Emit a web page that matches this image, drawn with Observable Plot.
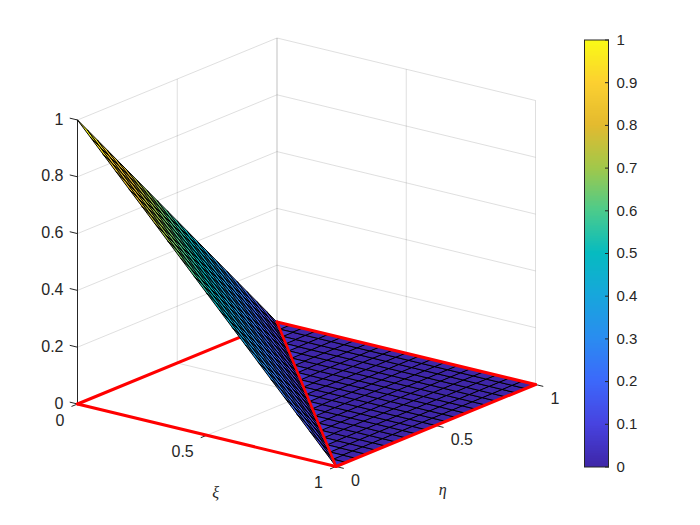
<!DOCTYPE html>
<html>
<head>
<meta charset="utf-8">
<script src="https://cdn.jsdelivr.net/npm/d3@7"></script>
<script src="https://cdn.jsdelivr.net/npm/@observablehq/plot@0.6"></script>
<style>
html,body{margin:0;padding:0;background:#fff}
#chart{position:relative;width:700px;height:525px;overflow:hidden}
#chart svg{position:absolute;top:0;background:transparent}
</style>
</head>
<body>
<div id="chart"></div>
<script>
// Mesh coordinates and heights
const meshSteps = [0,1,2,3,4,5,6,7,8,9,10,11,12,13,14,15,16,17,18,19,20];
const meshCoords = [0,.05,.1,.15,.2,.25,.3,.35,.4,.45,.5,.55,.6,.65,.7,.75,.8,.85,.9,.95,1];
// Height of the surface on each mesh diagonal (xi index + eta index), 0 beyond the last
const diagonalHeights = [1,.95,.9,.85,.8,.75,.7,.65,.6,.55,.5,.45,.4,.35,.3,.25,.2,.15,.1,.05,0];
const xiTicks = [0,0.5,1];
const etaTicks = [0,0.5,1];
const zTicks = [0,0.2,0.4,0.6,0.8,1];
const colorbarTicks = [0,0.1,0.2,0.3,0.4,0.5,0.6,0.7,0.8,0.9,1];
// Parula colormap stops
const parulaStops = ["#3e26a8","#4743e0","#3c68fb","#2a8cf0","#17a6dc","#06bbc0","#4ccb8b","#a1c84a","#e3ba2f","#fcd030","#f9fb15"];

// Oblique view of the unit cube
const view = {xi:[258.5,-62.5], eta:[199.5,82], z:[0,284]};
const px = ([a,b,c]) => a*view.xi[0] + b*view.eta[0] + c*view.z[0];
const py = ([a,b,c]) => a*view.xi[1] + b*view.eta[1] + c*view.z[1];
const last = meshSteps.length - 1;
const height = (i,j) => diagonalHeights[Math.min(i+j,last)];

const color = {type:"linear", domain:d3.range(11).map(d=>d/10), range:parulaStops};

const cells = [];
for (const i of meshSteps.slice(0,-1)) for (const j of meshSteps.slice(0,-1)) {
  const corners = [[i,j],[i+1,j],[i+1,j+1],[i,j+1]];
  const value = height(i,j);
  for (const [a,b] of corners)
    cells.push({cell:`${i}-${j}`, slope:i+j<last, value, p:[meshCoords[a],meshCoords[b],height(a,b)]});
}
const flatCells = cells.filter(d=>!d.slope);
const slopeCells = cells.filter(d=>d.slope);

const grid = [];
for (const t of xiTicks){grid.push({a:[t,0,0],b:[t,1,0]});grid.push({a:[t,1,0],b:[t,1,1]});}
for (const t of etaTicks){grid.push({a:[0,t,0],b:[1,t,0]});grid.push({a:[0,t,0],b:[0,t,1]});}
for (const t of zTicks){grid.push({a:[0,0,t],b:[0,1,t]});grid.push({a:[0,1,t],b:[1,1,t]});}

const tickLen = 0.03;
const ticks = [
  ...xiTicks.map(t=>({a:[t,0,0],b:[t,-tickLen,0]})),
  ...etaTicks.map(t=>({a:[1,t,0],b:[1+tickLen,t,0]})),
  ...zTicks.map(t=>({a:[0,0,t],b:[-tickLen,0,t]})),
  {a:[0,0,0],b:[0,0,1]}
];

const seg = (data,opts) => Plot.link(data,{x1:d=>px(d.a),y1:d=>py(d.a),x2:d=>px(d.b),y2:d=>py(d.b),...opts});
const red = {stroke:"#ff0000",strokeWidth:3,strokeLinecap:"round"};
const mesh = (data) => Plot.line(data,{x:d=>px(d.p),y:d=>py(d.p),z:"cell",fill:"value",stroke:"#000",strokeWidth:1,curve:"linear-closed"});
const labelStyle = {fontFamily:"Liberation Sans, Arial, sans-serif",fontSize:16,fill:"#262626"};
const greekStyle = {fontFamily:"Liberation Serif, serif",fontStyle:"italic",fontSize:16,fill:"#262626"};

const main = Plot.plot({
  width:700,height:525,margin:0,
  style:{background:"transparent",overflow:"visible"},
  x:{domain:[0,458],range:[77,535],axis:null},
  y:{domain:[-62.5,366],range:[466,37.5],axis:null},
  color,
  marks:[
    seg(grid,{stroke:"#262626",strokeOpacity:0.15,strokeWidth:1}),
    seg(ticks,{stroke:"#262626",strokeWidth:1}),
    seg([{a:[0,0,0],b:[0,1,0]}],red),
    mesh(flatCells),
    mesh(slopeCells),
    seg([{a:[1,0,0],b:[0,1,0]}],{...red,strokeWidth:2.6}),
    seg([{a:[0,0,0],b:[1,0,0]},{a:[1,0,0],b:[1,1,0]},{a:[1,1,0],b:[0,1,0]}],red),
    Plot.text(zTicks,{x:t=>px([0,0,t]),y:t=>py([0,0,t]),text:t=>String(t),textAnchor:"end",dx:-14,dy:-0.5,...labelStyle}),
    Plot.text(xiTicks,{x:t=>px([t,0,0]),y:t=>py([t,0,0]),text:t=>String(t),textAnchor:"end",dx:-13,dy:16.5,...labelStyle}),
    Plot.text(etaTicks,{x:t=>px([1,t,0]),y:t=>py([1,t,0]),text:t=>String(t),textAnchor:"start",dx:15,dy:14.5,...labelStyle}),
    Plot.text(["ξ"],{x:()=>px([0.5,0,0]),y:()=>py([0.5,0,0]),text:d=>d,dx:9,dy:57.5,...greekStyle}),
    Plot.text(["η"],{x:()=>px([1,0.5,0]),y:()=>py([1,0.5,0]),text:d=>d,dx:7,dy:64,...greekStyle})
  ]
});

const levels = d3.range(256);
const bar = Plot.plot({
  width:100,height:525,marginLeft:25,marginRight:51,marginTop:39.5,marginBottom:58.5,
  style:{background:"transparent",overflow:"visible"},
  x:{domain:[0,1],axis:null},
  y:{domain:[0,1],axis:null},
  color,
  marks:[
    Plot.rect(levels,{x1:0,x2:1,y1:d=>d/256,y2:d=>(d+1)/256,fill:d=>(d+.5)/256,shapeRendering:"crispEdges"}),
    Plot.frame({stroke:"#262626",strokeWidth:1}),
    Plot.axisY({anchor:"right",ticks:colorbarTicks,tickSize:-4,tickPadding:12,tickFormat:d=>String(d),label:null,color:"#262626",fontSize:15,fontFamily:"Liberation Sans, Arial, sans-serif"})
  ]
});
bar.style.left = "559px";
main.style.left = "0px";
const host = document.getElementById("chart");
host.append(main, bar);
</script>
</body>
</html>
